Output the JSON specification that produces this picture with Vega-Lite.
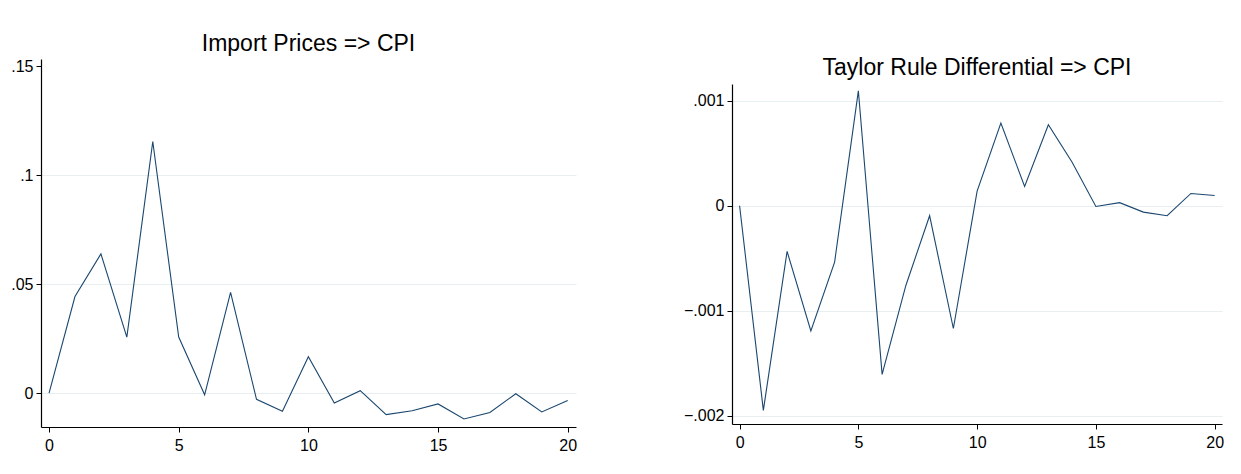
{
  "$schema": "https://vega.github.io/schema/vega-lite/v6.json",
  "padding": {"left": 10, "top": 33, "right": 10, "bottom": 5},
  "background": "white",
  "config": {
    "font": "Liberation Sans",
    "view": {"stroke": null},
    "axis": {"domainColor": "#000000", "tickColor": "#000000", "labelColor": "#000000", "labelFontSize": 16, "tickSize": 5, "labelPadding": 3, "gridColor": "#e8eff1", "gridWidth": 1.2, "title": null, "domainWidth": 1.2},
    "title": {"fontSize": 23, "fontWeight": "normal", "color": "#000000", "offset": 2, "anchor": "middle", "frame": "group"},
    "concat": {"spacing": 106}
  },
  "datasets": {
    "imp": [
      {"step": 0, "irf": 0}, {"step": 1, "irf": 0.0443}, {"step": 2, "irf": 0.0639}, {"step": 3, "irf": 0.0257},
      {"step": 4, "irf": 0.1155}, {"step": 5, "irf": 0.0257}, {"step": 6, "irf": -0.0008}, {"step": 7, "irf": 0.0462},
      {"step": 8, "irf": -0.0029}, {"step": 9, "irf": -0.0084}, {"step": 10, "irf": 0.0167}, {"step": 11, "irf": -0.0046},
      {"step": 12, "irf": 0.0011}, {"step": 13, "irf": -0.0099}, {"step": 14, "irf": -0.0081}, {"step": 15, "irf": -0.005},
      {"step": 16, "irf": -0.0119}, {"step": 17, "irf": -0.0089}, {"step": 18, "irf": -0.0003}, {"step": 19, "irf": -0.0087},
      {"step": 20, "irf": -0.0034}
    ],
    "taylor": [
      {"step": 0, "irf": 0}, {"step": 1, "irf": -0.00195}, {"step": 2, "irf": -0.000435}, {"step": 3, "irf": -0.001194},
      {"step": 4, "irf": -0.000537}, {"step": 5, "irf": 0.001095}, {"step": 6, "irf": -0.001607}, {"step": 7, "irf": -0.00076},
      {"step": 8, "irf": -0.000095}, {"step": 9, "irf": -0.00117}, {"step": 10, "irf": 0.000139}, {"step": 11, "irf": 0.000787},
      {"step": 12, "irf": 0.000184}, {"step": 13, "irf": 0.000771}, {"step": 14, "irf": 0.000415}, {"step": 15, "irf": -0.000007},
      {"step": 16, "irf": 0.000029}, {"step": 17, "irf": -0.000061}, {"step": 18, "irf": -0.000095}, {"step": 19, "irf": 0.000117},
      {"step": 20, "irf": 0.000098}
    ]
  },
  "hconcat": [
    {
      "width": 535,
      "height": 368,
      "title": {"text": "Import Prices => CPI"},
      "data": {"name": "imp"},
      "mark": {"type": "line", "color": "#1a476f", "strokeWidth": 1.1},
      "encoding": {
        "x": {"field": "step", "type": "quantitative", "scale": {"domain": [-0.31, 20.32], "nice": false, "zero": false},
              "axis": {"values": [0, 5, 10, 15, 20], "grid": false, "labelPadding": 5}},
        "y": {"field": "irf", "type": "quantitative", "scale": {"domain": [-0.0156, 0.1534], "nice": false, "zero": false},
              "axis": {"values": [0, 0.05, 0.1, 0.15], "labelExpr": "replace(format(datum.value, '.3~f'), '0.', '.')",
                       "gridColor": {"condition": {"test": "datum.value > 0.12", "value": "transparent"}, "value": "#e8eff1"}}}
      }
    },
    {
      "width": 490,
      "height": 365,
      "title": {"text": "Taylor Rule Differential => CPI", "offset": -21},
      "data": {"name": "taylor"},
      "mark": {"type": "line", "color": "#1a476f", "strokeWidth": 1.1},
      "encoding": {
        "x": {"field": "step", "type": "quantitative", "scale": {"domain": [-0.32, 20.31], "nice": false, "zero": false},
              "axis": {"values": [0, 5, 10, 15, 20], "grid": false, "labelPadding": 5}},
        "y": {"field": "irf", "type": "quantitative", "scale": {"domain": [-0.00208, 0.00116], "nice": false, "zero": false, "range": [365, 25]},
              "axis": {"values": [-0.002, -0.001, 0, 0.001], "labelExpr": "replace(format(datum.value, '.3~f'), '0.', '.')"}}
      }
    }
  ]
}
